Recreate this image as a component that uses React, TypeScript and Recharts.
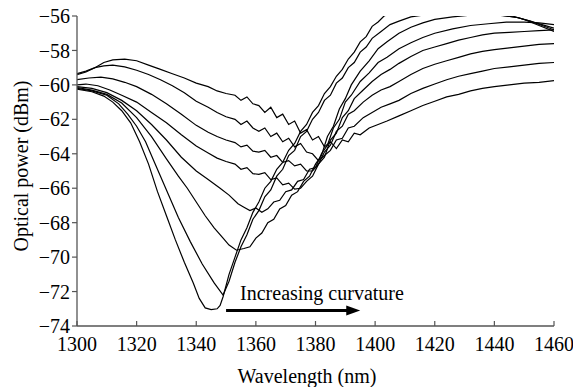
import { LineChart, Line, XAxis, YAxis, ReferenceLine } from 'recharts'

// wavelength (nm), optical power (dBm) — one list per bend radius
const curve1: [number, number][] = [
  [1300, -59.4], [1303, -59.25], [1306, -59.0], [1309, -58.7], [1312, -58.55], [1316, -58.5],
  [1320, -58.6], [1324, -58.85], [1328, -59.1], [1332, -59.35], [1336, -59.6], [1340, -59.9],
  [1344, -60.1], [1347, -60.35], [1350, -60.5], [1353, -60.6], [1355, -60.9], [1357, -60.7],
  [1359, -61.1], [1361, -61.2], [1363, -61.6], [1365, -61.3], [1367, -61.9], [1369, -61.7],
  [1371, -62.3], [1373, -62.1], [1375, -62.8], [1377, -62.6], [1379, -63.2], [1381, -63.0],
  [1383, -63.6], [1385, -63.3], [1387, -63.7], [1389, -63.2], [1391, -63.3], [1393, -62.8],
  [1395, -62.9], [1398, -62.5], [1401, -62.3], [1404, -62.1], [1408, -61.8], [1412, -61.5],
  [1416, -61.2], [1420, -60.95], [1424, -60.7], [1428, -60.55], [1432, -60.35], [1436, -60.2],
  [1440, -60.1], [1445, -60.0], [1450, -59.9], [1455, -59.85], [1460, -59.75],
]

const curve2: [number, number][] = [
  [1300, -59.35], [1303, -59.2], [1306, -59.0], [1309, -58.9], [1312, -58.85], [1316, -58.95],
  [1320, -59.15], [1324, -59.4], [1328, -59.7], [1332, -60.05], [1336, -60.45], [1340, -60.95],
  [1344, -61.3], [1347, -61.6], [1350, -61.85], [1353, -62.0], [1355, -62.3], [1357, -62.1],
  [1359, -62.5], [1361, -62.7], [1363, -62.5], [1365, -63.0], [1367, -62.8], [1369, -63.3],
  [1371, -63.1], [1373, -63.6], [1375, -63.4], [1377, -63.9], [1379, -64.0], [1381, -64.4],
  [1383, -64.1], [1385, -63.8], [1387, -63.2], [1389, -63.1], [1391, -62.5], [1393, -62.4],
  [1396, -61.9], [1399, -61.6], [1402, -61.3], [1405, -61.1], [1408, -60.9], [1412, -60.5],
  [1416, -60.2], [1420, -59.95], [1424, -59.7], [1428, -59.5], [1432, -59.35], [1436, -59.2],
  [1440, -59.05], [1445, -58.95], [1450, -58.85], [1455, -58.75], [1460, -58.7],
]

const curve3: [number, number][] = [
  [1300, -59.7], [1304, -59.6], [1308, -59.55], [1312, -59.65], [1316, -59.85], [1320, -60.1],
  [1325, -60.55], [1330, -61.1], [1335, -61.7], [1340, -62.35], [1344, -62.75], [1347, -63.0],
  [1350, -63.2], [1353, -63.35], [1355, -63.6], [1357, -63.5], [1359, -63.85], [1361, -63.9],
  [1363, -63.8], [1365, -64.2], [1367, -64.1], [1369, -64.5], [1371, -64.4], [1373, -64.7],
  [1375, -64.6], [1377, -65.0], [1379, -65.0], [1381, -64.6], [1383, -63.9], [1385, -63.5],
  [1387, -62.7], [1389, -62.4], [1391, -61.7], [1393, -61.5], [1396, -61.0], [1399, -60.6],
  [1402, -60.3], [1405, -60.1], [1408, -59.8], [1412, -59.4], [1416, -59.05], [1420, -58.8],
  [1424, -58.6], [1428, -58.4], [1432, -58.2], [1436, -58.05], [1440, -57.95], [1445, -57.85],
  [1450, -57.75], [1455, -57.65], [1460, -57.6],
]

const curve4: [number, number][] = [
  [1300, -60.0], [1303, -59.95], [1307, -60.05], [1311, -60.3], [1315, -60.6], [1320, -61.0],
  [1325, -61.6], [1330, -62.2], [1335, -62.9], [1340, -63.55], [1344, -63.95], [1347, -64.25],
  [1350, -64.45], [1353, -64.6], [1355, -64.9], [1357, -64.8], [1359, -65.15], [1361, -65.2],
  [1363, -65.1], [1365, -65.5], [1367, -65.4], [1369, -65.8], [1371, -65.7], [1373, -66.05],
  [1375, -66.0], [1377, -65.6], [1379, -65.3], [1381, -64.6], [1383, -64.2], [1385, -63.2],
  [1387, -62.8], [1389, -61.9], [1391, -61.5], [1393, -60.8], [1396, -60.3], [1399, -59.8],
  [1402, -59.4], [1405, -59.1], [1408, -58.75], [1412, -58.35], [1416, -58.0], [1420, -57.8],
  [1424, -57.6], [1428, -57.4], [1432, -57.25], [1436, -57.1], [1440, -57.0], [1445, -56.95],
  [1450, -56.9], [1455, -56.85], [1460, -56.8],
]

const curve5: [number, number][] = [
  [1300, -60.1], [1305, -60.2], [1310, -60.45], [1315, -60.9], [1320, -61.5], [1325, -62.3],
  [1330, -63.2], [1335, -64.2], [1340, -65.0], [1344, -65.5], [1348, -66.0], [1351, -66.4],
  [1354, -66.9], [1356, -67.1], [1358, -67.3], [1360, -67.15], [1362, -67.4], [1364, -67.2],
  [1366, -66.8], [1368, -66.7], [1370, -66.2], [1372, -66.1], [1374, -65.6], [1376, -65.5],
  [1378, -64.9], [1380, -64.8], [1382, -64.0], [1384, -63.5], [1386, -62.5], [1388, -62.0],
  [1390, -61.0], [1392, -60.6], [1395, -59.8], [1398, -59.3], [1401, -58.7], [1404, -58.4],
  [1408, -57.9], [1412, -57.55], [1416, -57.25], [1420, -57.0], [1426, -56.75], [1432, -56.55],
  [1438, -56.45], [1444, -56.35], [1450, -56.35], [1455, -56.4], [1460, -56.5],
]

const curve6: [number, number][] = [
  [1300, -60.15], [1305, -60.3], [1310, -60.55], [1315, -61.05], [1320, -61.9], [1325, -63.0],
  [1330, -64.3], [1334, -65.3], [1337, -66.0], [1340, -66.8], [1343, -67.6], [1346, -68.3],
  [1349, -68.9], [1351, -69.3], [1353.5, -69.6], [1356, -69.5], [1358, -69.4], [1360, -68.9],
  [1362, -68.6], [1364, -68.0], [1366, -67.8], [1368, -67.2], [1370, -67.0], [1372, -66.4],
  [1374, -66.2], [1376, -65.6], [1378, -65.3], [1380, -64.6], [1382, -64.1], [1384, -63.0],
  [1386, -62.4], [1388, -61.4], [1390, -60.8], [1392, -60.0], [1395, -59.2], [1398, -58.6],
  [1401, -57.9], [1404, -57.5], [1408, -57.0], [1412, -56.65], [1416, -56.4], [1420, -56.2],
  [1426, -56.05], [1432, -55.95], [1438, -55.9], [1444, -56.0], [1448, -56.1], [1452, -56.3],
  [1456, -56.5], [1460, -56.7],
]

const curve7: [number, number][] = [
  [1300, -60.2], [1305, -60.35], [1310, -60.6], [1314, -61.1], [1317, -61.7], [1320, -62.4],
  [1323, -63.3], [1326, -64.5], [1330, -66.1], [1334, -67.7], [1338, -69.1], [1342, -70.4],
  [1346, -71.5], [1349, -72.2], [1351, -71.4], [1353, -70.3], [1355, -69.4], [1357, -68.7],
  [1359, -67.8], [1361, -67.3], [1363, -66.5], [1365, -66.1], [1367, -65.3], [1369, -64.9],
  [1371, -64.1], [1373, -63.8], [1375, -63.0], [1377, -62.7], [1379, -62.0], [1381, -61.6],
  [1383, -60.9], [1385, -60.6], [1387, -59.9], [1389, -59.6], [1391, -59.0], [1393, -58.7],
  [1395, -58.1], [1397, -57.8], [1399, -57.3], [1402, -56.9], [1405, -56.5], [1408, -56.3],
  [1412, -56.05], [1418, -55.9], [1426, -55.85], [1434, -55.85], [1442, -55.95], [1448, -56.1],
  [1452, -56.3], [1456, -56.55], [1460, -56.8],
]

const curve8: [number, number][] = [
  [1300, -60.25], [1305, -60.4], [1309, -60.65], [1312, -61.0], [1315, -61.5], [1318, -62.2],
  [1321, -63.3], [1324, -64.6], [1327, -66.2], [1330, -67.6], [1333, -69.0], [1336, -70.3],
  [1339, -71.5], [1341, -72.4], [1343, -72.95], [1345, -73.05], [1347, -73.0], [1348, -72.8],
  [1349, -72.3], [1351, -71.0], [1353, -70.0], [1355, -69.0], [1357, -68.3], [1359, -67.4],
  [1361, -66.8], [1363, -66.0], [1365, -65.6], [1367, -64.9], [1369, -64.5], [1371, -63.8],
  [1373, -63.4], [1375, -62.7], [1377, -62.3], [1379, -61.6], [1381, -61.2], [1383, -60.5],
  [1385, -60.1], [1387, -59.5], [1389, -59.1], [1391, -58.5], [1393, -58.1], [1395, -57.5],
  [1397, -57.2], [1399, -56.6], [1401, -56.35], [1403, -56.0], [1406, -55.8], [1412, -55.6],
  [1420, -55.5], [1430, -55.55], [1440, -55.7], [1446, -56.0], [1450, -56.2], [1455, -56.55],
  [1460, -56.9],
]

const curves = [curve1, curve2, curve3, curve4, curve5, curve6, curve7, curve8]

const xTicks = [1300, 1320, 1340, 1360, 1380, 1400, 1420, 1440, 1460]
const yTicks = [-74, -72, -70, -68, -66, -64, -62, -60, -58, -56]

// arrow under the annotation, in data units
const arrowStart = { x: 1350, y: -73.1 }
const arrowEnd = { x: 1395, y: -73.1 }

const FONT = '"Liberation Serif", "Times New Roman", serif'
const AXIS = '#555'

const XTick = (props: any) => {
  const { x, y, payload } = props
  return (
    <g>
      <line x1={x} x2={x} y1={y} y2={y - 5} stroke={AXIS} strokeWidth={1.2} />
      <text x={x} y={y + 25} textAnchor="middle" fontSize={20} fontFamily={FONT} fill="#000">
        {payload.value}
      </text>
    </g>
  )
}

const Arrow = (props: any) => {
  const { x1, y1, x2 } = props
  return (
    <g>
      <line x1={x1} y1={y1} x2={x2 - 12} y2={y1} stroke="#000" strokeWidth={3} />
      <polygon points={`${x2},${y1} ${x2 - 14},${y1 - 5} ${x2 - 14},${y1 + 5}`} fill="#000" />
      <text x={x1 + 14} y={y1 - 11} fontSize={20} fontFamily={FONT} fill="#000">
        Increasing curvature
      </text>
    </g>
  )
}

export default function App() {
  return (
    <div style={{ position: 'absolute', left: 0, top: 0, background: '#fff' }}>
      <LineChart width={573} height={387} margin={{ top: 16, right: 19, left: 0, bottom: 0 }}>
        <XAxis
          type="number"
          dataKey="wl"
          domain={[1300, 1460]}
          ticks={xTicks}
          allowDataOverflow
          height={61}
          tickSize={0}
          tickMargin={0}
          tickLine={false}
          tick={<XTick />}
          axisLine={{ stroke: AXIS, strokeWidth: 1.3 }}
          label={{
            value: 'Wavelength (nm)',
            content: () => (
              <text x={307} y={383} textAnchor="middle" fontSize={20} fontFamily={FONT} fill="#000">
                Wavelength (nm)
              </text>
            ),
          }}
        />
        <YAxis
          type="number"
          domain={[-74, -56]}
          ticks={yTicks}
          allowDataOverflow
          width={77}
          tickSize={5}
          tickMargin={2}
          tickFormatter={(v: number) => `\u2212${Math.abs(v)}`}
          tick={{ fill: '#000', fontSize: 20, fontFamily: FONT }}
          tickLine={{ stroke: AXIS, strokeWidth: 1.2 }}
          axisLine={{ stroke: AXIS, strokeWidth: 1.3 }}
          label={{
            value: 'Optical power (dBm)',
            content: () => (
              <text
                x={0}
                y={0}
                transform="translate(28,166) rotate(-90)"
                textAnchor="middle"
                fontSize={20}
                fontFamily={FONT}
                fill="#000"
              >
                Optical power (dBm)
              </text>
            ),
          }}
        />
        {curves.map((c, i) => (
          <Line
            key={i}
            data={c.map(([wl, db]) => ({ wl, db }))}
            dataKey="db"
            type="linear"
            stroke="#000"
            strokeWidth={1.2}
            dot={false}
            activeDot={false}
            isAnimationActive={false}
          />
        ))}
        <ReferenceLine segment={[arrowStart, arrowEnd]} shape={<Arrow />} />
      </LineChart>
    </div>
  )
}
